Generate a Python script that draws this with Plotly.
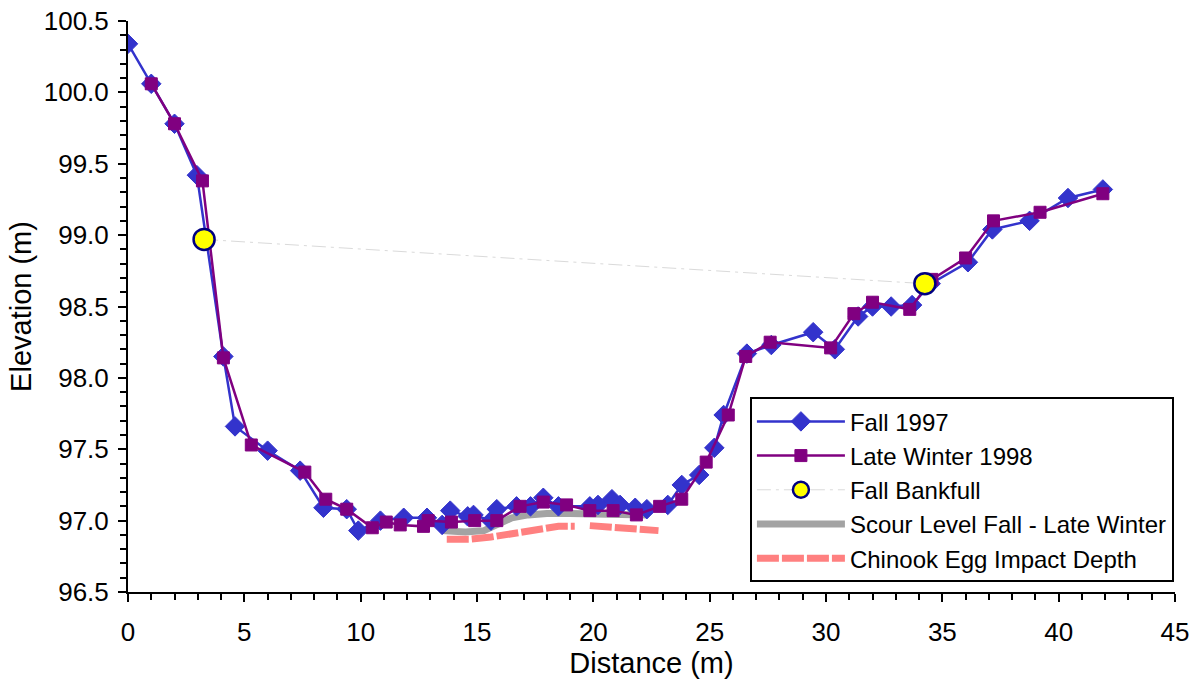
import plotly.graph_objects as go

# Channel cross-section survey, distance across (m) vs bed elevation (m)
fall_x = [0, 1.0, 2.0, 2.96, 4.1, 4.6, 6.0, 7.4, 8.4, 9.4, 9.9, 10.85, 11.85, 12.85,
          13.5, 13.85, 14.6, 14.85, 15.6, 15.85, 16.7, 17.3, 17.85, 18.5, 19.85, 20.2,
          20.8, 21.15, 21.8, 22.3, 23.2, 23.8, 24.55, 25.2, 25.6, 26.6, 27.65, 29.45,
          30.38, 31.38, 32.0, 32.8, 33.7, 34.5, 36.1, 37.15, 38.75, 40.4, 41.9]
fall_y = [100.34, 100.06, 99.78, 99.42, 98.15, 97.66, 97.49, 97.35, 97.09, 97.08, 96.93,
          97.0, 97.02, 97.02, 96.97, 97.07, 97.03, 97.04, 97.0, 97.08, 97.1, 97.1, 97.16,
          97.1, 97.1, 97.11, 97.15, 97.11, 97.09, 97.08, 97.11, 97.25, 97.32, 97.51, 97.74,
          98.17, 98.23, 98.32, 98.2, 98.43, 98.5, 98.5, 98.51, 98.66, 98.81, 99.04, 99.1,
          99.26, 99.32]

winter_x = [1.0, 2.0, 3.2, 4.1, 5.3, 7.6, 8.5, 9.4, 10.5, 11.1, 11.7, 12.7, 12.9, 13.9,
            14.9, 15.85, 16.85, 17.85, 18.85, 19.85, 20.85, 21.85, 22.85, 23.8, 24.85,
            25.8, 26.55, 27.6, 30.2, 31.2, 32.0, 33.6, 34.55, 36.0, 37.2, 39.2, 41.9]
winter_y = [100.06, 99.78, 99.38, 98.14, 97.53, 97.34, 97.15, 97.08, 96.95, 96.99, 96.97,
            96.96, 97.0, 96.99, 97.0, 97.0, 97.1, 97.13, 97.11, 97.07, 97.07, 97.04, 97.1,
            97.15, 97.41, 97.74, 98.15, 98.25, 98.21, 98.45, 98.53, 98.48, 98.69, 98.84,
            99.1, 99.16, 99.29]

bankfull_x = [3.27, 34.25]
bankfull_y = [98.97, 98.66]

scour_x = [13.5, 14.5, 15.3, 15.9, 16.5, 17.2, 18.0, 19.0, 20.0, 21.0, 22.3]
scour_y = [96.93, 96.92, 96.93, 96.98, 97.02, 97.04, 97.05, 97.05, 97.05, 97.05, 97.04]

egg_x = [13.7, 14.7, 15.6, 16.5, 17.0, 17.7, 18.5, 19.2, None, 19.85, 20.5, 21.3, 22.2, 22.8]
egg_y = [96.87, 96.87, 96.885, 96.91, 96.93, 96.95, 96.96, 96.96, None, 96.965, 96.96,
         96.945, 96.935, 96.93]

x_ticks = [0, 5, 10, 15, 20, 25, 30, 35, 40, 45]
y_ticks = [96.5, 97.0, 97.5, 98.0, 98.5, 99.0, 99.5, 100.0, 100.5]

FONT = "Liberation Sans, Arial, sans-serif"

fig = go.Figure()

fig.add_trace(go.Scatter(
    x=scour_x, y=scour_y, mode="lines", name="Scour Level Fall - Late Winter",
    line=dict(color="#A3A3A3", width=7), legendrank=4, legendgroup="scour"))

fig.add_trace(go.Scatter(
    x=egg_x, y=egg_y, mode="lines", name="Chinook Egg Impact Depth",
    line=dict(color="#FF8080", width=7, dash="22px,3px"), connectgaps=False,
    legendrank=5, legendgroup="egg"))

fig.add_trace(go.Scatter(
    x=fall_x, y=fall_y, mode="lines+markers", name="Fall 1997",
    line=dict(color="#3333CC", width=2.5),
    marker=dict(symbol="diamond", size=15, color="#3333CC",
                line=dict(color="#3333CC", width=1)),
    legendrank=1, legendgroup="fall"))

fig.add_trace(go.Scatter(
    x=winter_x, y=winter_y, mode="lines+markers", name="Late Winter 1998",
    line=dict(color="#800080", width=2.5),
    marker=dict(symbol="square", size=12, color="#800080",
                line=dict(color="#800080", width=1)),
    legendrank=2, legendgroup="winter"))

fig.add_trace(go.Scatter(
    x=bankfull_x, y=bankfull_y, mode="lines+markers", name="Fall Bankfull",
    line=dict(color="#DADADA", width=1, dash="14px,5px,3px,5px"),
    marker=dict(symbol="circle", size=21, color="#FFFF00",
                line=dict(color="#000080", width=2.5)),
    legendrank=3, legendgroup="bankfull"))

fig.update_layout(
    width=1190, height=681,
    margin=dict(l=128, r=15, t=21, b=89),
    paper_bgcolor="white", plot_bgcolor="white",
    font=dict(family=FONT, size=26, color="black"),
    showlegend=True,
    legend=dict(
        x=0.594, y=0.341, xanchor="left", yanchor="top",
        bgcolor="white", bordercolor="black", borderwidth=2,
        font=dict(family=FONT, size=24, color="black"),
        itemwidth=88, tracegroupgap=0,
    ),
    xaxis=dict(
        range=[0, 45], tickvals=x_ticks, ticktext=[str(v) for v in x_ticks],
        automargin=False,
        showgrid=False, zeroline=False, showline=True, linecolor="black", linewidth=2,
        ticks="outside", ticklen=8, tickwidth=1.5, tickcolor="black",
        minor=dict(dtick=1, ticks="outside", ticklen=6, tickwidth=1.5, tickcolor="black"),
        title=dict(text="Distance (m)", font=dict(family=FONT, size=29), standoff=4),
        tickfont=dict(family=FONT, size=26),
        ticklabelstandoff=8,
    ),
    yaxis=dict(
        range=[96.5, 100.5], tickvals=y_ticks, ticktext=[f"{v:.1f}" for v in y_ticks],
        automargin=False,
        showgrid=False, zeroline=False, showline=True, linecolor="black", linewidth=2,
        ticks="outside", ticklen=8, tickwidth=1.5, tickcolor="black",
        minor=dict(dtick=0.1, tick0=96.5, ticks="outside", ticklen=6, tickwidth=1.5,
                   tickcolor="black"),
        title=dict(text="Elevation (m)", font=dict(family=FONT, size=29), standoff=4),
        tickfont=dict(family=FONT, size=26),
        ticklabelstandoff=4,
    ),
)

fig.write_html("out.html")
